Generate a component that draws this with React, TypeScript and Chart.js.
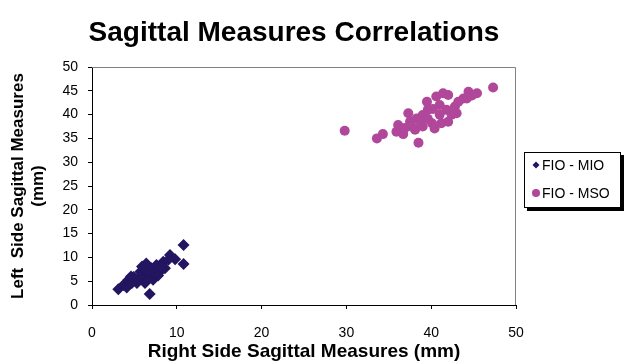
import React, { useEffect, useRef } from 'react';
import { Chart, registerables } from 'chart.js';

Chart.register(...registerables);

const CHART_TITLE = 'Sagittal Measures Correlations';
const X_TITLE = 'Right Side Sagittal Measures (mm)';
const Y_TITLE = ['Left  Side Sagittal Measures', '(mm)'];
const SERIES_NAMES = ['FIO - MIO', 'FIO - MSO'];
const SERIES_COLORS = ['#231560', '#B0479B'];

const X_TICKS = [0, 10, 20, 30, 40, 50];
const Y_TICKS = [0, 5, 10, 15, 20, 25, 30, 35, 40, 45, 50];

// FIO - MIO
const mioX = [10.8, 10.8, 6.8, 9.8, 9.2, 3.1, 3.7, 4.3, 4.1, 4.9, 5.3, 5.7, 6.0, 6.4, 6.6, 7.0, 7.2, 7.6, 8.0, 8.4, 8.6, 9.0, 5.9, 6.8, 4.7, 6.25, 7.4, 5.5, 4.6, 7.8, 6.4, 8.2];
const mioY = [12.6, 8.6, 2.3, 9.6, 10.5, 3.3, 4.2, 5.3, 3.7, 5.9, 4.6, 7.0, 5.6, 8.7, 6.7, 7.7, 5.3, 8.4, 7.0, 9.1, 7.7, 9.5, 8.1, 6.2, 4.6, 4.6, 6.7, 5.6, 6.0, 6.2, 7.4, 8.0];

// FIO - MSO
const msoX = [29.8, 33.6, 34.3, 38.5, 47.3, 35.9, 36.7, 36.1, 37.3, 37.5, 38.3, 39.0, 39.6, 39.5, 40.1, 40.4, 40.6, 41.4, 42.0, 41.0, 41.8, 42.0, 42.8, 43.2, 43.8, 44.4, 45.4, 44.8, 38.1, 39.0, 37.7, 38.7, 41.0, 40.2, 42.4, 43.0, 44.2, 39.6, 36.9, 41.2];
const msoY = [36.6, 35.0, 35.9, 34.1, 45.7, 36.4, 35.9, 37.8, 40.3, 38.5, 39.2, 39.9, 41.0, 42.7, 38.2, 37.1, 43.8, 44.5, 44.1, 42.0, 41.0, 38.5, 41.7, 42.7, 43.4, 44.8, 44.5, 44.0, 36.8, 37.5, 37.5, 38.5, 40.0, 41.2, 40.0, 40.3, 43.4, 39.1, 37.2, 38.2];

const FONT = 'Arial, "Liberation Sans", sans-serif';

const toPoints = (xs: number[], ys: number[]) => xs.map((x, i) => ({ x, y: ys[i] }));

const decorPlugin = {
  id: 'decor',
  beforeDatasetsDraw(chart: any) {
    const { ctx, chartArea: a } = chart;
    ctx.save();
    ctx.strokeStyle = '#808080';
    ctx.lineWidth = 1;
    ctx.beginPath();
    ctx.moveTo(a.left, a.top + 0.5);
    ctx.lineTo(a.right - 0.5, a.top + 0.5);
    ctx.lineTo(a.right - 0.5, a.bottom);
    ctx.stroke();
    ctx.restore();
  },
  afterDraw(chart: any) {
    const { ctx } = chart;
    ctx.save();
    // title
    ctx.fillStyle = '#000';
    ctx.font = `bold 28px ${FONT}`;
    ctx.textAlign = 'center';
    ctx.textBaseline = 'alphabetic';
    ctx.fillText(CHART_TITLE, 294, 41);

    // legend box
    const bx = 524, by = 152, bw = 97, bh = 56;
    ctx.fillStyle = '#000';
    ctx.fillRect(bx + 3, by + 3, bw, bh);
    ctx.fillStyle = '#fff';
    ctx.fillRect(bx, by, bw, bh);
    ctx.strokeStyle = '#000';
    ctx.lineWidth = 1;
    ctx.strokeRect(bx + 0.5, by + 0.5, bw - 1, bh - 1);

    ctx.font = `14px ${FONT}`;
    ctx.textAlign = 'left';
    ctx.textBaseline = 'middle';
    const rows = [165, 193];
    chart.data.datasets.forEach((ds: any, i: number) => {
      const cy = rows[i];
      const mx = 536;
      ctx.fillStyle = ds.backgroundColor;
      ctx.beginPath();
      if (ds.pointStyle === 'rectRot') {
        const r = 3.5;
        ctx.moveTo(mx, cy - r);
        ctx.lineTo(mx + r, cy);
        ctx.lineTo(mx, cy + r);
        ctx.lineTo(mx - r, cy);
        ctx.closePath();
      } else {
        ctx.arc(mx, cy, 4, 0, Math.PI * 2);
      }
      ctx.fill();
      ctx.fillStyle = '#000';
      ctx.fillText(ds.label, 542, cy + 1);
    });
    ctx.restore();
  },
};

export default function App() {
  const ref = useRef<HTMLCanvasElement | null>(null);

  useEffect(() => {
    if (!ref.current) return;
    const chart = new Chart(ref.current, {
      type: 'scatter',
      data: {
        datasets: [
          {
            label: SERIES_NAMES[0],
            data: toPoints(mioX, mioY),
            backgroundColor: SERIES_COLORS[0],
            borderColor: SERIES_COLORS[0],
            pointStyle: 'rectRot',
            pointRadius: 6,
            borderWidth: 0,
          },
          {
            label: SERIES_NAMES[1],
            data: toPoints(msoX, msoY),
            backgroundColor: SERIES_COLORS[1],
            borderColor: SERIES_COLORS[1],
            pointStyle: 'circle',
            pointRadius: 5,
            borderWidth: 0,
          },
        ],
      },
      options: {
        responsive: false,
        animation: false,
        devicePixelRatio: 1,
        layout: { padding: { top: 67, right: 109, left: 0, bottom: 0 } },
        plugins: {
          legend: { display: false },
          title: { display: false },
          tooltip: { enabled: false },
        },
        scales: {
          x: {
            type: 'linear',
            min: X_TICKS[0],
            max: X_TICKS[X_TICKS.length - 1],
            afterBuildTicks: (scale: any) => {
              scale.ticks = X_TICKS.map((v) => ({ value: v }));
            },
            afterFit: (scale: any) => {
              scale.height = 59;
            },
            ticks: {
              color: '#000',
              font: { family: FONT, size: 14 },
              padding: 16,
              maxRotation: 0,
            },
            grid: {
              drawOnChartArea: false,
              drawTicks: true,
              tickLength: 4,
              color: '#000',
            },
            border: { display: true, color: '#000', width: 1 },
            title: {
              display: true,
              text: X_TITLE,
              color: '#000',
              font: { family: FONT, size: 19, weight: 'bold' },
              padding: { top: 0, bottom: 1 },
            },
          },
          y: {
            type: 'linear',
            min: Y_TICKS[0],
            max: Y_TICKS[Y_TICKS.length - 1],
            afterBuildTicks: (scale: any) => {
              scale.ticks = Y_TICKS.map((v) => ({ value: v }));
            },
            afterFit: (scale: any) => {
              scale.width = 92;
            },
            ticks: {
              color: '#000',
              font: { family: FONT, size: 14 },
              padding: 10,
            },
            grid: {
              drawOnChartArea: false,
              drawTicks: true,
              tickLength: 4,
              color: '#000',
            },
            border: { display: true, color: '#000', width: 1 },
            title: {
              display: true,
              text: Y_TITLE,
              color: '#000',
              font: { family: FONT, size: 17, weight: 'bold', lineHeight: 1.2 },
              padding: { top: 8, bottom: 0 },
            },
          },
        },
      } as any,
      plugins: [decorPlugin],
    });
    return () => chart.destroy();
  }, []);

  return (
    <div style={{ position: 'fixed', left: 0, top: 0, width: 625, height: 364, background: '#fff' }}>
      <canvas ref={ref} width={625} height={364} style={{ width: 625, height: 364, display: 'block' }} />
    </div>
  );
}
